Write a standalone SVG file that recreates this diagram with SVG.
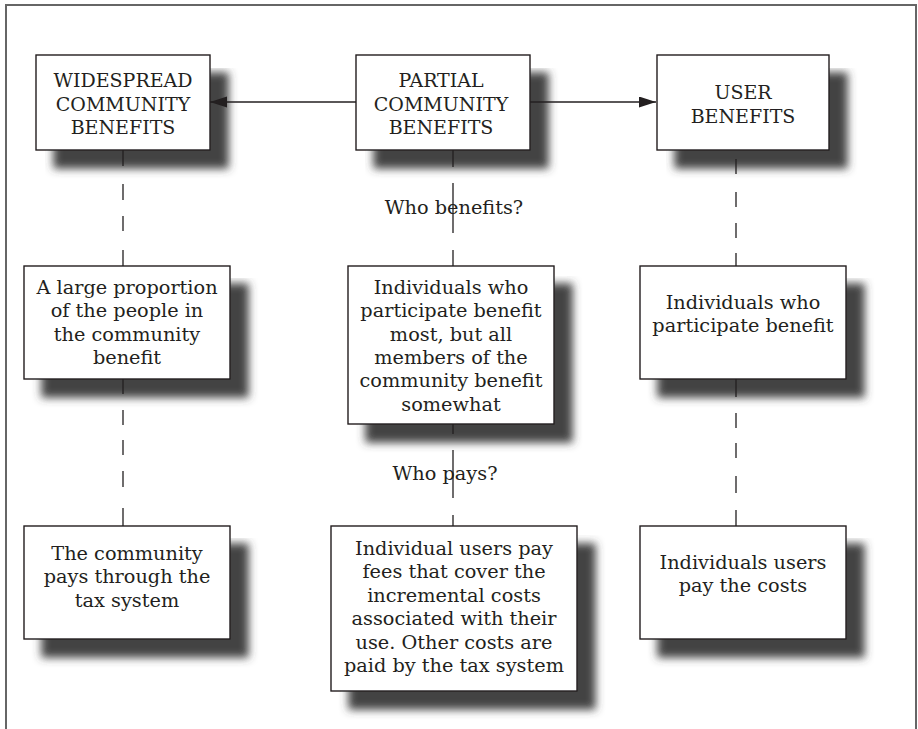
<svg xmlns="http://www.w3.org/2000/svg" width="918" height="729" viewBox="0 0 918 729">
<style>
.box{fill:#fff;stroke:#231f20;stroke-width:1.4;filter:url(#shadow)}
.t{font-family:"DejaVu Serif","Liberation Serif",serif;font-size:19.3px;fill:#231f20;text-anchor:middle}
.h{font-size:19px}
.ln{fill:none;stroke:#231f20;stroke-width:1.3}
.arr{fill:none;stroke:#231f20;stroke-width:1.3;marker-end:url(#ah)}
</style>
<defs>
<filter id="shadow" x="-5%" y="-5%" width="145%" height="175%">
<feGaussianBlur in="SourceAlpha" stdDeviation="4.5"/>
<feOffset dx="18" dy="18" result="b"/>
<feFlood flood-color="#3a3a3a" flood-opacity="0.95"/>
<feComposite in2="b" operator="in"/>
<feMerge><feMergeNode/><feMergeNode in="SourceGraphic"/></feMerge>
</filter>
<marker id="ah" markerUnits="userSpaceOnUse" markerWidth="18" markerHeight="12" refX="17" refY="5.5" orient="auto">
<path d="M0,0 L17,5.5 L0,11 Z" fill="#231f20"/>
</marker>
</defs>
<rect x="6" y="5" width="910" height="780" fill="none" stroke="#666" stroke-width="2"/>

<g id="n-widespread">
<rect class="box" x="36" y="55" width="174" height="95"/>
<text class="t h" x="123"><tspan x="123" y="87">WIDESPREAD</tspan><tspan x="123" y="110.5">COMMUNITY</tspan><tspan x="123" y="134">BENEFITS</tspan></text>
</g>
<g id="n-partial">
<rect class="box" x="356" y="55" width="174" height="95"/>
<text class="t h" x="441"><tspan x="441" y="87">PARTIAL</tspan><tspan x="441" y="110.5">COMMUNITY</tspan><tspan x="441" y="134">BENEFITS</tspan></text>
</g>
<g id="n-user">
<rect class="box" x="657" y="55" width="172" height="95"/>
<text class="t h" x="743"><tspan x="743" y="99">USER</tspan><tspan x="743" y="122.5">BENEFITS</tspan></text>
</g>
<g id="n-wide-who">
<rect class="box" x="24" y="266" width="206" height="113"/>
<text class="t" x="127"><tspan x="127" y="294">A large proportion</tspan><tspan x="127" y="317.4">of the people in</tspan><tspan x="127" y="340.8">the community</tspan><tspan x="127" y="364.2">benefit</tspan></text>
</g>
<g id="n-partial-who">
<rect class="box" x="348" y="266" width="206" height="158"/>
<text class="t" x="451"><tspan x="451" y="294">Individuals who</tspan><tspan x="451" y="317.3">participate benefit</tspan><tspan x="451" y="340.6">most, but all</tspan><tspan x="451" y="363.9">members of the</tspan><tspan x="451" y="387.2">community benefit</tspan><tspan x="451" y="410.5">somewhat</tspan></text>
</g>
<g id="n-user-who">
<rect class="box" x="640" y="266" width="206" height="113"/>
<text class="t" x="743"><tspan x="743" y="309">Individuals who</tspan><tspan x="743" y="332">participate benefit</tspan></text>
</g>
<g id="n-wide-pay">
<rect class="box" x="24" y="526" width="206" height="113"/>
<text class="t" x="127"><tspan x="127" y="560">The community</tspan><tspan x="127" y="583.4">pays through the</tspan><tspan x="127" y="606.8">tax system</tspan></text>
</g>
<g id="n-partial-pay">
<rect class="box" x="331" y="526" width="246" height="165"/>
<text class="t" x="454"><tspan x="454" y="555">Individual users pay</tspan><tspan x="454" y="578.4">fees that cover the</tspan><tspan x="454" y="601.8">incremental costs</tspan><tspan x="454" y="625.2">associated with their</tspan><tspan x="454" y="648.6">use. Other costs are</tspan><tspan x="454" y="672">paid by the tax system</tspan></text>
</g>
<g id="n-user-pay">
<rect class="box" x="640" y="526" width="206" height="113"/>
<text class="t" x="743"><tspan x="743" y="569">Individuals users</tspan><tspan x="743" y="592">pay the costs</tspan></text>
</g>

<g id="connectors">
<path class="arr" d="M356,102 H210"/>
<path class="arr" d="M530,102 H656"/>
<path class="ln" d="M123,150V166M123,184V200M123,216V231M123,250V266"/>
<path class="ln" d="M123,379V394M123,410V425M123,440V455M123,471V487M123,508V526"/>
<path class="ln" d="M453,150V167M453,183V233M453,250V266"/>
<path class="ln" d="M453,424V434M453,450V498M453,515V526"/>
<path class="ln" d="M736,159V174M736,192V207M736,223V238M736,253V266"/>
<path class="ln" d="M736,379V397M736,413V428M736,443V458M736,476V493M736,510V526"/>
<text class="t" x="454" y="214">Who benefits?</text>
<text class="t" x="445" y="480">Who pays?</text>
</g>
</svg>
